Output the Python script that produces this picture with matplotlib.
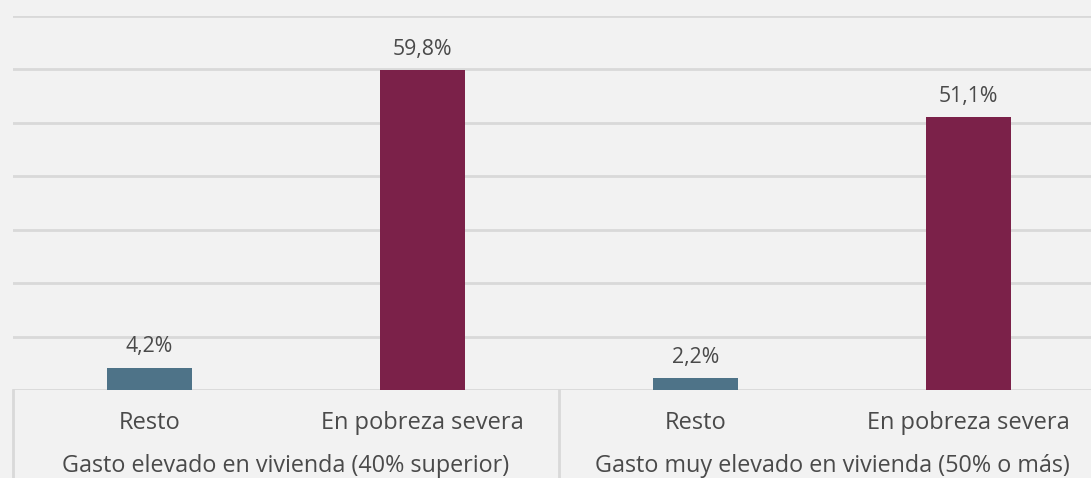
import matplotlib
matplotlib.use("Agg")
import matplotlib.pyplot as plt
from matplotlib.lines import Line2D

groups = ["Gasto elevado en vivienda (40% superior)", "Gasto muy elevado en vivienda (50% o más)"]
categories = ["Resto", "En pobreza severa"]
values = [[4.2, 59.8], [2.2, 51.1]]
colors = ["#4e7388", "#7b2149"]

W, H = 1091, 478
fig = plt.figure(figsize=(W / 100, H / 100), dpi=100, facecolor="#f2f2f2")
left, right, top, bottom = 13 / W, 1105 / W, 1 - 16 / H, 1 - 390 / H
ax = fig.add_axes([left, bottom, right - left, top - bottom])
ax.set_facecolor("#f2f2f2")

font = "Open Sans"
txtc = "#4a4a4a"
pos = 0
xs, ys, cs, labels = [], [], [], []
for g, vals in enumerate(values):
    for c, v in enumerate(vals):
        xs.append(pos); ys.append(v); cs.append(colors[c]); labels.append(categories[c])
        pos += 1
bars = ax.bar(xs, ys, width=0.31, color=cs, zorder=3)
for x, v in zip(xs, ys):
    ax.annotate(f"{v:.1f}%".replace(".", ","), (x, v), xytext=(0, 15), textcoords="offset points",
                ha="center", va="center", fontsize=15.3, color=txtc, family=font)

ax.set_xlim(-0.5, len(xs) - 0.5)
ax.set_ylim(0, 70)
ax.set_yticks(range(0, 71, 10))
ax.yaxis.grid(True, color="#d9d9d9", linewidth=2, zorder=0)
ax.tick_params(axis="y", length=0, labelleft=False)
ax.tick_params(axis="x", length=0)
ax.set_xticks(xs)
ax.set_xticklabels([])
for x, lab in zip(xs, labels):
    ax.annotate(lab, (x, 0), xycoords=("data", "axes fraction"), xytext=(0, -24),
                textcoords="offset points", ha="center", va="center", fontsize=17,
                color=txtc, family=font, annotation_clip=False)
for s in ax.spines.values():
    s.set_visible(False)

# group labels and separators
for g, name in enumerate(groups):
    cx = g * 2 + 0.5
    ax.annotate(name, (cx, 0), xycoords=("data", "axes fraction"), xytext=(0, -55),
                textcoords="offset points", ha="center", va="center", fontsize=16.8,
                color=txtc, family=font, annotation_clip=False)
for b in [-0.5, 1.5, 3.5]:
    ax.add_line(Line2D([b, b], [0, -0.3], transform=ax.get_xaxis_transform(),
                       color="#d9d9d9", linewidth=2, clip_on=False))

fig.savefig("out.png", dpi=100, facecolor=fig.get_facecolor())
